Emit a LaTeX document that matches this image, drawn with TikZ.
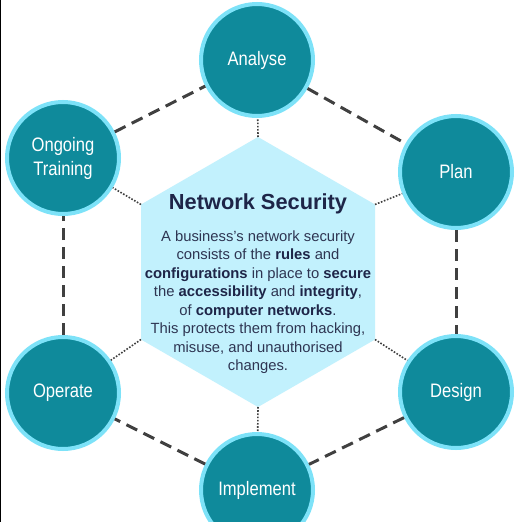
\documentclass[tikz,border=0pt]{standalone}
\usepackage{fontspec}
\setmainfont{Liberation Sans}
\newfontfamily\labelfont[FakeStretch=0.85]{Liberation Sans}
\usetikzlibrary{positioning}

\definecolor{stagefill}{HTML}{0F8A9B}
\definecolor{stagering}{HTML}{7DE2F8}
\definecolor{hubfill}{HTML}{C2F1FD}
\definecolor{linkgrey}{HTML}{404040}
\definecolor{hubtext}{HTML}{2E3552}
\definecolor{hubtitle}{HTML}{1E2548}

\tikzset{
    stage/.style={circle, fill=stagefill, draw=stagering, line width=4pt,
        minimum size=112pt, inner sep=0pt, text=white, align=center,
        font=\labelfont\fontsize{19.5}{24}\selectfont},
    link/.style={draw=linkgrey, line width=3pt, dash pattern=on 12pt off 7pt},
    spoke/.style={draw=linkgrey, line width=1.6pt, dash pattern=on 1.6pt off 1.6pt}
}

\begin{document}
\begin{tikzpicture}[x=1pt, y=-1pt]
    \clip (0,0) rectangle (518,522);
    \fill[white] (0,0) rectangle (518,522);
    \fill[black] (0,0) rectangle (1.2,522);

    % centre hexagon
    \coordinate (hT)  at (258,137);
    \coordinate (hUR) at (375,204.5);
    \coordinate (hLR) at (375,339.5);
    \coordinate (hB)  at (258,407);
    \coordinate (hLL) at (141,339.5);
    \coordinate (hUL) at (141,204.5);
    \fill[hubfill] (hT) -- (hUR) -- (hLR) -- (hB) -- (hLL) -- (hUL) -- cycle;

    % stages
    \node[stage] (analyse)   at (257,60)  {Analyse};
    \node[stage] (plan)      at (456,172) {Plan};
    \node[stage] (design)    at (456,392) {Design};
    \node[stage] (implement) at (257,490) {Implement};
    \node[stage] (operate)   at (63,393)  {Operate};
    \node[stage] (training)  at (63,158)  {Ongoing\\Training};

    \path
        (training)  edge [link] (analyse)
        (analyse)   edge [link] (plan)
        (plan)      edge [link] (design)
        (design)    edge [link] (implement)
        (implement) edge [link] (operate)
        (operate)   edge [link] (training);

    \path
        (hT)  edge [spoke] (analyse)
        (hUR) edge [spoke] (plan)
        (hLR) edge [spoke] (design)
        (hB)  edge [spoke] (implement)
        (hLL) edge [spoke] (operate)
        (hUL) edge [spoke] (training);

    % text in the hexagon
    \node[text=hubtitle, font=\bfseries\fontsize{21.8}{24}\selectfont] (title) at (258,204) {Network Security};
    \node[text=hubtext, align=center, font=\fontsize{14.8}{18.5}\selectfont] (body) at (258,302)
        {A business\symbol{39}s network security\\
         consists of the \textbf{\color{hubtitle}rules} and\\
         \textbf{\color{hubtitle}configurations} in place to \textbf{\color{hubtitle}secure}\\
         the \textbf{\color{hubtitle}accessibility} and \textbf{\color{hubtitle}integrity},\\
         of \textbf{\color{hubtitle}computer networks}.\\
         This protects them from hacking,\\
         misuse, and unauthorised\\
         changes.};
\end{tikzpicture}
\end{document}
